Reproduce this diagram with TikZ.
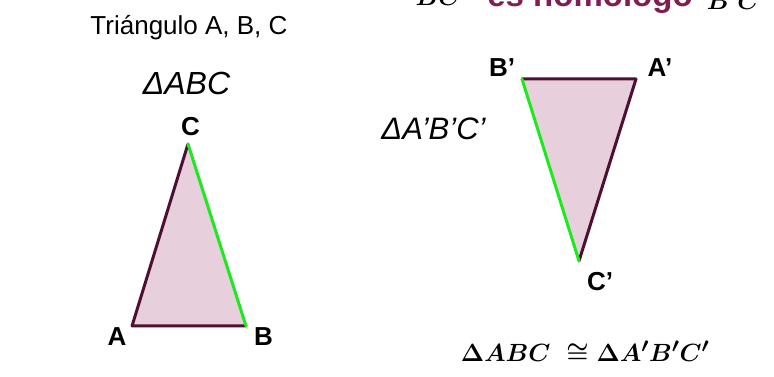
\documentclass[tikz,border=0pt]{standalone}
\usepackage{amsmath, amssymb}
\usepackage{fontspec}
\setmainfont{Liberation Sans}
\usepackage{tikz}
\usetikzlibrary{positioning}

\definecolor{triFill}{RGB}{231,207,219}
\definecolor{triEdge}{RGB}{78,16,50}
\definecolor{homGreen}{RGB}{30,232,30}
\definecolor{homText}{RGB}{128,30,82}

\begin{document}
\begin{tikzpicture}[x=1pt,y=1pt,
    vlabel/.style={font=\bfseries\fontsize{26}{26}\selectfont, inner sep=0pt},
    tname/.style={font=\itshape\fontsize{32}{32}\selectfont, anchor=base, inner sep=0pt},
    side/.style={draw=triEdge, line width=3pt, line cap=round},
    homside/.style={draw=homGreen, line width=3pt, line cap=round}]
       \useasboundingbox (0,0) rectangle (774,377);
       \clip (0,0) rectangle (774,377);

       % triangulo ABC
       \coordinate (A) at (132,51);
       \coordinate (B) at (246,51);
       \coordinate (C) at (188,233);
       \fill[triFill] (A) -- (B) -- (C) -- cycle;
       \path[side] (A) -- (B) (A) -- (C);
       \path[homside] (C) -- (B);

       \node[vlabel] (lA) at (117,40) {A};
       \node[vlabel] (lB) at (263.5,40) {B};
       \node[vlabel] (lC) at (190.5,250) {C};

       % triangulo A'B'C'
       \coordinate (A') at (636,298);
       \coordinate (B') at (522,298);
       \coordinate (C') at (579,116);
       \fill[triFill] (A') -- (B') -- (C') -- cycle;
       \path[side] (B') -- (A') (A') -- (C');
       \path[homside] (B') -- (C');

       \node[vlabel] (lB') at (502,309) {B’};
       \node[vlabel] (lA') at (660,309) {A’};
       \node[vlabel] (lC') at (600,95) {C’};

       % textos
       \node[anchor=base, inner sep=0pt, font=\fontsize{26}{26}\selectfont] (titulo) at (189,342) {Triángulo A, B, C};
       \node[tname] (nABC) at (186.5,282) {ΔABC};
       \node[tname, font=\itshape\fontsize{31}{31}\selectfont] (nApBpCp) at (433.5,237) {ΔA’B’C’};

       \node[anchor=base, inner sep=0pt, font=\fontsize{28}{28}\selectfont] (congr) at (585,15)
            {$\boldsymbol{\Delta ABC\ \cong \Delta A'B'C'}$};

       \node[anchor=base, inner sep=0pt, font=\fontsize{28}{28}\selectfont] (segBC) at (438,371) {$\boldsymbol{BC}$};
       \node[anchor=base, inner sep=0pt, text=homText, font=\bfseries\fontsize{33}{33}\selectfont] (homol) at (590,370) {es homólogo};
       \node[anchor=base, inner sep=0pt, font=\fontsize{28}{28}\selectfont] (segBpCp) at (737,367) {$\boldsymbol{B'C'}$};
    \end{tikzpicture}
\end{document}
